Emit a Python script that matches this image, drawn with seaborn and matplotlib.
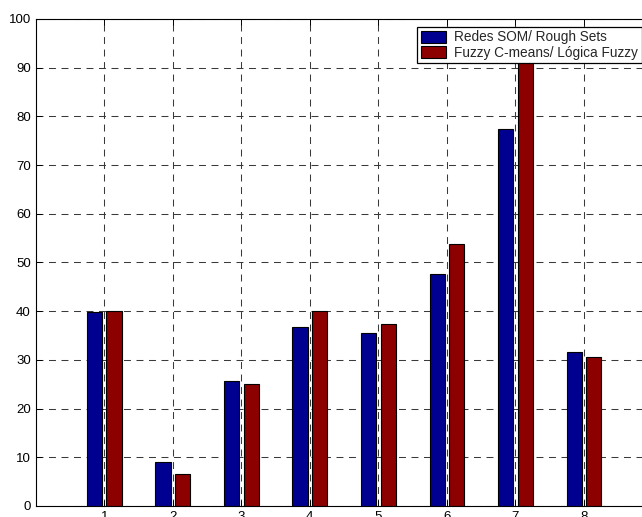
import matplotlib
matplotlib.use("Agg")
import matplotlib.pyplot as plt
import seaborn as sns
import pandas as pd

categories = ["1", "2", "3", "4", "5", "6", "7", "8"]
series_names = ["Redes SOM/ Rough Sets", "Fuzzy C-means/ Lógica Fuzzy"]
som_values = [39.8, 9.0, 25.7, 36.8, 35.5, 47.7, 77.4, 31.6]
fuzzy_values = [40.0, 6.5, 25.1, 40.1, 37.4, 53.8, 92.0, 30.6]
y_ticks = [0, 10, 20, 30, 40, 50, 60, 70, 80, 90, 100]
bar_colors = ["#000090", "#8C0000"]

df = pd.DataFrame({
    "grupo": categories * 2,
    "serie": [series_names[0]] * len(categories) + [series_names[1]] * len(categories),
    "valor": som_values + fuzzy_values,
})

sns.set_theme(style="white")
plt.rcParams["font.family"] = ["Liberation Sans", "DejaVu Sans"]
plt.rcParams["lines.scale_dashes"] = False

fig = plt.figure(figsize=(6.42, 5.17), dpi=100)
ax = fig.add_axes([0.0556, 0.0213, 0.9608, 0.942])

sns.barplot(
    data=df, x="grupo", y="valor", hue="serie", order=categories,
    hue_order=series_names, palette=dict(zip(series_names, bar_colors)),
    saturation=1, width=0.572, gap=0.23, edgecolor="black", linewidth=0.8,
    ax=ax, errorbar=None,
)

ax.set_xlim(-1, len(categories))
ax.set_ylim(0, 100)
ax.set_yticks(y_ticks)
ax.set_yticklabels([str(v) for v in y_ticks])
ax.set_xlabel("")
ax.set_ylabel("")

ax.set_axisbelow(True)
ax.grid(True, which="major", axis="both", color="#3a3a3a",
        linestyle=(0, (5, 4)), linewidth=0.75)

for side in ["top", "bottom", "left", "right"]:
    ax.spines[side].set_visible(True)
    ax.spines[side].set_color("black")
    ax.spines[side].set_linewidth(0.8)

ax.tick_params(axis="both", direction="in", length=4, width=0.7, color="black",
               labelsize=9.5, labelcolor="black", top=True, right=True,
               bottom=True, left=True, pad=3.5)

handles, labels = ax.get_legend_handles_labels()
leg = ax.legend(
    handles, labels, loc="upper right",
    bbox_to_anchor=(0.9998, 0.9484), bbox_transform=fig.transFigure,
    fontsize=9.8, frameon=True, fancybox=False, framealpha=1,
    edgecolor="black", borderpad=0.28, handlelength=1.85, handleheight=1.0,
    handletextpad=0.62, labelspacing=0.08, borderaxespad=0,
)
leg.get_frame().set_linewidth(0.9)

fig.savefig("out.png", dpi=100)
